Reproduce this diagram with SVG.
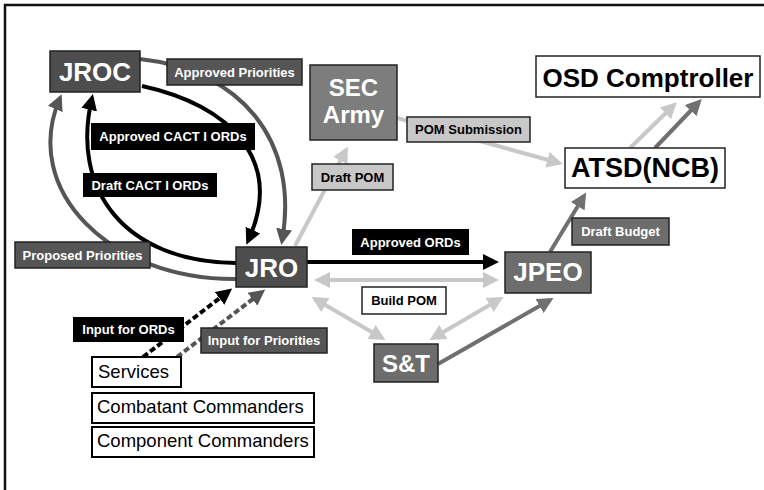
<svg xmlns="http://www.w3.org/2000/svg" width="764" height="490" viewBox="0 0 764 490">
  <style>
    .t { font-family: "Liberation Sans", Arial, sans-serif; font-weight: bold; text-anchor: middle; }
    .big { font-size: 26px; fill: #ffffff; }
    .bigk { font-size: 26px; fill: #000000; }
    .lbl { font-size: 13px; fill: #ffffff; }
    .lblk { font-size: 13px; fill: #000000; }
    .src { font-family: "Liberation Sans", Arial, sans-serif; font-size: 18.5px; fill: #000; }
    .box { stroke: #222; stroke-width: 1.5; }
    .c { fill: none; stroke-width: 4; }
  </style>
  <defs>
    <marker id="aK" markerUnits="userSpaceOnUse" markerWidth="16" markerHeight="16" viewBox="0 0 16 16" refX="12" refY="8" orient="auto-start-reverse"><path d="M0,0 L16,8 L0,16 z" fill="#000"/></marker>
    <marker id="aD" markerUnits="userSpaceOnUse" markerWidth="16" markerHeight="16" viewBox="0 0 16 16" refX="12" refY="8" orient="auto-start-reverse"><path d="M0,0 L16,8 L0,16 z" fill="#555"/></marker>
    <marker id="aM" markerUnits="userSpaceOnUse" markerWidth="16" markerHeight="16" viewBox="0 0 16 16" refX="12" refY="8" orient="auto-start-reverse"><path d="M0,0 L16,8 L0,16 z" fill="#707070"/></marker>
    <marker id="aL" markerUnits="userSpaceOnUse" markerWidth="16" markerHeight="16" viewBox="0 0 16 16" refX="12" refY="8" orient="auto-start-reverse"><path d="M0,0 L16,8 L0,16 z" fill="#c8c8c8"/></marker>
  </defs>
  <rect x="0" y="0" width="764" height="490" fill="#fff"/>
  <rect x="5" y="5" width="800" height="520" fill="none" stroke="#111" stroke-width="2.5"/>

  <g id="connectors">
    <path class="c" d="M140,59 C240,70 300,140 282,241" stroke="#555" stroke-width="4.5" marker-end="url(#aD)"/>
    <path class="c" d="M142,86 C230,105 285,160 248,241" stroke="#000" stroke-width="3.5" marker-end="url(#aK)"/>
    <path class="c" d="M236,263 C125,262 70,190 92,98" stroke="#000" stroke-width="3.5" marker-end="url(#aK)"/>
    <path class="c" d="M236,279 C110,280 20,190 60,98" stroke="#555" stroke-width="4.5" marker-end="url(#aD)"/>
    <path class="c" d="M295,246 L346,150" stroke="#c8c8c8" marker-end="url(#aL)"/>
    <path class="c" d="M397,118 L559,163" stroke="#c8c8c8" marker-end="url(#aL)"/>
    <path class="c" d="M630,148 L674,105" stroke="#c8c8c8" marker-end="url(#aL)"/>
    <path class="c" d="M655,148 L699,102" stroke="#707070" marker-end="url(#aM)"/>
    <path class="c" d="M550,252 L584,196" stroke="#707070" marker-end="url(#aM)"/>
    <path class="c" d="M307,262 L495,262" stroke="#000" marker-end="url(#aK)"/>
    <path class="c" d="M318,280 L495,280" stroke="#c8c8c8" marker-start="url(#aL)" marker-end="url(#aL)"/>
    <path class="c" d="M315,299 L382,338" stroke="#c8c8c8" marker-start="url(#aL)" marker-end="url(#aL)"/>
    <path class="c" d="M500,299 L433,338" stroke="#c8c8c8" marker-start="url(#aL)" marker-end="url(#aL)"/>
    <path class="c" d="M438,364 L550,300" stroke="#707070" marker-end="url(#aM)"/>
    <path class="c" d="M143,357 L229,291" stroke="#000" stroke-dasharray="6 3" marker-end="url(#aK)"/>
    <path class="c" d="M177,357 L262,292" stroke="#555" stroke-dasharray="6 3" marker-end="url(#aD)"/>
  </g>

  <g id="lbl-approved-priorities"><rect class="box" x="167" y="59" width="135" height="26" fill="#555"/><text class="t lbl" x="234.5" y="77">Approved Priorities</text></g>
  <g id="lbl-approved-cact"><rect x="91" y="123" width="164" height="27" fill="#000"/><text class="t lbl" x="173" y="141">Approved CACT I ORDs</text></g>
  <g id="lbl-draft-cact"><rect x="83" y="173" width="134" height="24" fill="#000"/><text class="t lbl" x="150" y="190">Draft CACT I ORDs</text></g>
  <g id="lbl-proposed-priorities"><rect class="box" x="15" y="242" width="135" height="26" fill="#555"/><text class="t lbl" x="82.5" y="260">Proposed Priorities</text></g>
  <g id="lbl-draft-pom"><rect class="box" x="312" y="164" width="81" height="26" fill="#c8c8c8"/><text class="t lblk" x="352.5" y="182">Draft POM</text></g>
  <g id="lbl-pom-submission"><rect class="box" x="407" y="117" width="123" height="25" fill="#c8c8c8"/><text class="t lblk" x="468.5" y="134">POM Submission</text></g>
  <g id="lbl-draft-budget"><rect class="box" x="572" y="218" width="97" height="27" fill="#6d6d6d"/><text class="t lbl" x="620.5" y="236">Draft Budget</text></g>
  <g id="lbl-approved-ords"><rect x="352" y="229" width="117" height="26" fill="#000"/><text class="t lbl" x="410.5" y="247">Approved ORDs</text></g>
  <g id="lbl-build-pom"><rect class="box" x="362" y="287" width="84" height="27" fill="#fff"/><text class="t lblk" x="404" y="305">Build POM</text></g>
  <g id="lbl-input-ords"><rect x="73" y="317" width="111" height="25" fill="#000"/><text class="t lbl" x="128.5" y="334">Input for ORDs</text></g>
  <g id="lbl-input-priorities"><rect class="box" x="201" y="328" width="126" height="25" fill="#555"/><text class="t lbl" x="264" y="345">Input for Priorities</text></g>

  <g id="jroc"><rect class="box" x="50" y="51" width="90" height="41" fill="#4d4d4d"/><text class="t big" x="95" y="80.5">JROC</text></g>
  <g id="sec-army"><rect class="box" x="310" y="65" width="87" height="75" fill="#7d7d7d"/><text class="t big" x="353.5" y="95.5" style="font-size:24px">SEC</text><text class="t big" x="353.5" y="122.5" style="font-size:24px">Army</text></g>
  <g id="osd-comptroller"><rect class="box" x="536" y="56" width="224" height="41" fill="#fff"/><text class="t bigk" x="648" y="87">OSD Comptroller</text></g>
  <g id="atsd-ncb"><rect class="box" x="565" y="148" width="160" height="40" fill="#fff"/><text class="t bigk" x="645" y="177" style="font-size:27px">ATSD(NCB)</text></g>
  <g id="jro"><rect class="box" x="236" y="247" width="71" height="40" fill="#4d4d4d"/><text class="t big" x="271.5" y="277">JRO</text></g>
  <g id="jpeo"><rect class="box" x="505" y="252" width="86" height="41" fill="#6d6d6d"/><text class="t big" x="548" y="281">JPEO</text></g>
  <g id="st"><rect class="box" x="374" y="344" width="64" height="38" fill="#6d6d6d"/><text class="t big" x="406" y="372" style="font-size:24px">S&amp;T</text></g>
  <g id="services"><rect x="92" y="357" width="89" height="30" fill="#fff" stroke="#000" stroke-width="2"/><text class="src" x="98" y="378">Services</text></g>
  <g id="combatant"><rect x="92" y="393" width="222" height="30" fill="#fff" stroke="#000" stroke-width="2"/><text class="src" x="97" y="413">Combatant Commanders</text></g>
  <g id="component"><rect x="92" y="427" width="222" height="30" fill="#fff" stroke="#000" stroke-width="2"/><text class="src" x="97" y="447">Component Commanders</text></g>
</svg>
